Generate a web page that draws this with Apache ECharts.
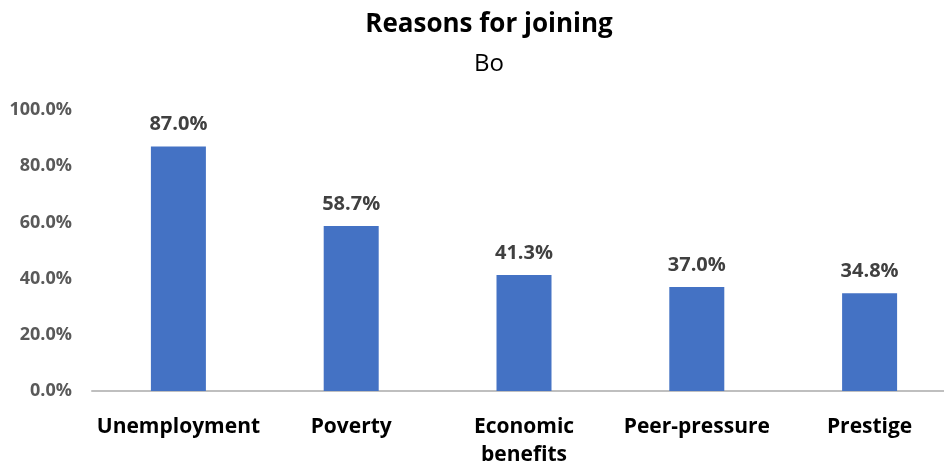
<!DOCTYPE html>
<html>
<head>
<meta charset="utf-8">
<script src="https://cdn.jsdelivr.net/npm/echarts@6/dist/echarts.min.js"></script>
<style>
  html, body { margin: 0; padding: 0; background: #fff; }
  #chart { width: 944px; height: 470px; }
</style>
</head>
<body>
<div id="chart"></div>
<script>
var categories = ['Unemployment', 'Poverty', 'Economic\nbenefits', 'Peer-pressure', 'Prestige'];
var values = [87.0, 58.7, 41.3, 37.0, 34.8];
var yTicks = [0, 20, 40, 60, 80, 100];

var font = '"Open Sans", Lato, sans-serif';
var chart = echarts.init(document.getElementById('chart'));

var option = {
    animation: false,
    title: [
        {
            text: 'Reasons for joining',
            left: 484, top: 7, textAlign: 'center',
            textStyle: { fontFamily: font, fontSize: 26, fontWeight: 'bold', color: '#000' }
        },
        {
            text: 'Bo',
            left: 484, top: 47, textAlign: 'center',
            textStyle: { fontFamily: font, fontSize: 24, fontWeight: 'normal', color: '#000' }
        }
    ],
    grid: { left: 92, width: 864, top: 110, bottom: 79, containLabel: false, outerBoundsMode: 'none' },
    xAxis: {
        type: 'category',
        data: categories,
        axisLine: { lineStyle: { color: '#BFBFBF', width: 2 } },
        axisTick: { show: false },
        axisLabel: {
            interval: 0,
            fontFamily: font, fontSize: 21, fontWeight: 'bold', color: '#000',
            margin: 22, lineHeight: 28
        }
    },
    yAxis: {
        type: 'value',
        min: 0, max: 100, interval: 20,
        splitLine: { show: false },
        axisLine: { show: false },
        axisTick: { show: false },
        axisLabel: {
            fontFamily: font, fontSize: 18, fontWeight: 'bold', color: '#595959',
            margin: 20,
            formatter: function (v) { return v.toFixed(1) + '%'; }
        }
    },
    series: [{
        type: 'bar',
        data: values,
        barWidth: 55,
        itemStyle: { color: '#4472C4' },
        label: {
            show: true, position: 'top', distance: 12,
            fontFamily: font, fontSize: 20, fontWeight: 'bold', color: '#404040',
            formatter: function (p) { return p.value.toFixed(1) + '%'; }
        }
    }]
};
chart.setOption(option);
</script>
</body>
</html>
